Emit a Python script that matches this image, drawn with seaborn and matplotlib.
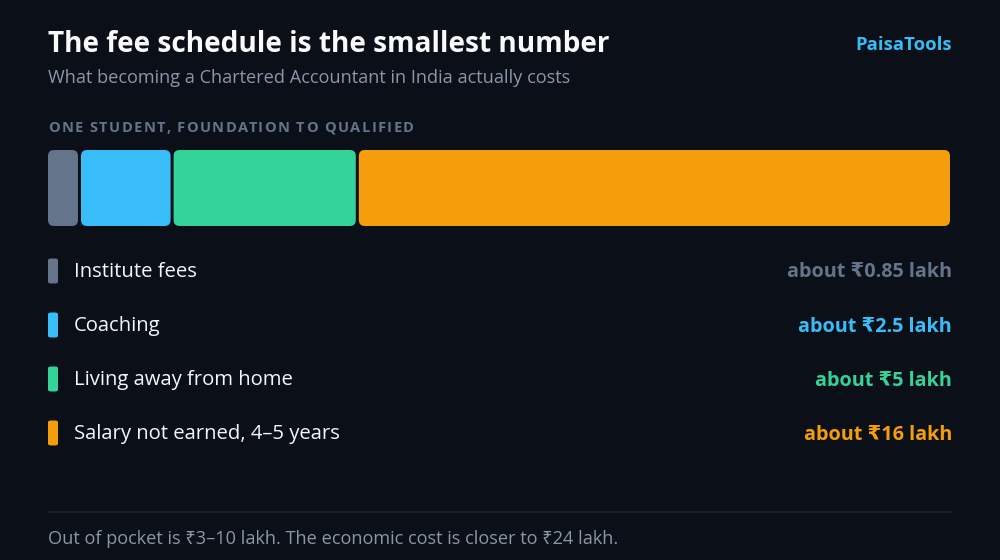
import matplotlib
matplotlib.use("Agg")
import matplotlib.pyplot as plt
from matplotlib.patches import FancyBboxPatch
import seaborn as sns

# data
categories = ["Institute fees", "Coaching", "Living away from home", "Salary not earned, 4\u20135 years"]
cost_lakh = [0.85, 2.5, 5, 16]
value_labels = ["about \u20b90.85 lakh", "about \u20b92.5 lakh", "about \u20b95 lakh", "about \u20b916 lakh"]
palette = ["#64748b", "#38bdf8", "#34d399", "#f59e0b"]

BG = "#0b0f17"
W, H = 1000, 560

sns.set_theme(style="dark")
plt.rcParams["font.family"] = ["Open Sans", "Noto Sans", "DejaVu Sans"]
BOLD_FAMILY = ["Open Sans", "DejaVu Sans"]


def fx(x):
    return x / W


def fy(y):
    return 1 - y / H


def pt(px):
    return px * 0.72


fig = plt.figure(figsize=(10, 5.6), dpi=100, facecolor=BG)
renderer = fig.canvas.get_renderer()


def text_width(s, **kw):
    t = fig.text(0, 0, s + "I", **kw)
    w = t.get_window_extent(renderer).width
    t.remove()
    t = fig.text(0, 0, "I", **kw)
    w -= t.get_window_extent(renderer).width
    t.remove()
    return w


def spaced_text(x, y, s, spacing, **kw):
    # matplotlib has no letter-spacing, so place glyphs one by one
    for i, ch in enumerate(s):
        off = text_width(s[:i], **kw) if i else 0
        fig.text(fx(x + off + i * spacing), fy(y), ch, va="center", ha="left", **kw)


# header
fig.text(fx(48), fy(44), "The fee schedule is the smallest number", color="#f8fafc",
         fontsize=pt(28), fontweight="bold", va="center", ha="left")
fig.text(fx(952), fy(45), "PaisaTools", color="#38bdf8", fontsize=pt(18.5),
         fontweight="bold", va="center", ha="right")
fig.text(fx(48), fy(78), "What becoming a Chartered Accountant in India actually costs",
         color="#8b97a8", fontsize=pt(18.1), va="center", ha="left")
spaced_text(48, 128, "ONE STUDENT, FOUNDATION TO QUALIFIED", 1.45,
            color="#64748b", fontsize=pt(14.6), fontweight="bold")

# stacked bar, axes in pixel units
x0, x1, y0, y1 = 48, 950, 150, 226
ax = fig.add_axes([fx(x0), fy(y1), fx(x1 - x0), (y1 - y0) / H])
ax.set_xlim(0, x1 - x0)
ax.set_ylim(0, y1 - y0)
ax.axis("off")

total = sum(cost_lakh)
gap = 3
start = 0.0
for i, (v, c) in enumerate(zip(cost_lakh, palette)):
    w = v / total * (x1 - x0)
    left = start + (gap / 2 if i > 0 else 0)
    right = start + w - (gap / 2 if i < len(cost_lakh) - 1 else 0)
    ax.add_patch(FancyBboxPatch((left, 0), right - left, y1 - y0,
                                boxstyle="round,pad=0,rounding_size=6",
                                facecolor=c, edgecolor="none"))
    start += w

# legend rows
row_y = [271, 325, 379, 433]
for cat, lab, c, y in zip(categories, value_labels, palette, row_y):
    fig.patches.append(FancyBboxPatch((fx(48), fy(y + 12.5)), fx(10), 25 / H,
                                      boxstyle="round,pad=0,rounding_size=0.003",
                                      transform=fig.transFigure, facecolor=c,
                                      edgecolor="none"))
    fig.text(fx(74), fy(y + 1.5), cat, color="#f3f6fa", fontsize=pt(20.3),
             va="center", ha="left")
    fig.text(fx(952), fy(y + 1.5), lab, color=c, fontsize=pt(19.8),
             fontweight="bold", family=BOLD_FAMILY, va="center", ha="right")

# footer
fig.add_artist(plt.Line2D([fx(48), fx(952)], [fy(512), fy(512)], color="#1c2330",
                          linewidth=1.2, transform=fig.transFigure))
fig.text(fx(48), fy(538.5), "Out of pocket is \u20b93\u201310 lakh. The economic cost is closer to \u20b924 lakh.",
         color="#8b97a8", fontsize=pt(18.2), va="center", ha="left")

fig.savefig("out.png", dpi=100, facecolor=BG)
